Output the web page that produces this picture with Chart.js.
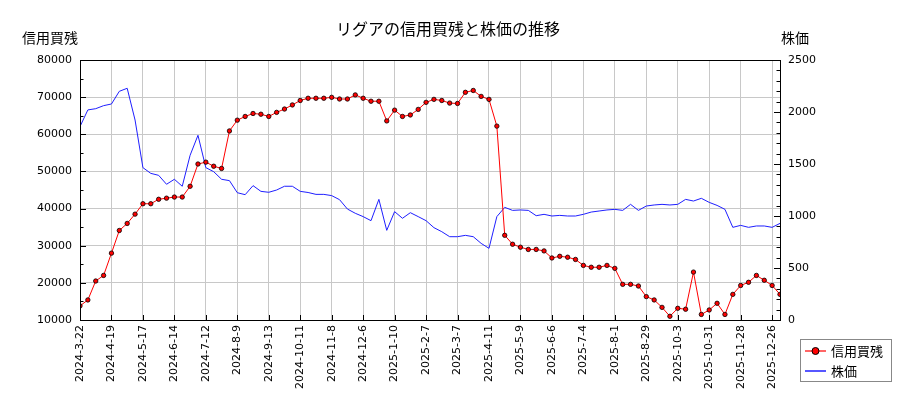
<!DOCTYPE html>
<html>
<head>
<meta charset="utf-8">
<script src="https://cdn.jsdelivr.net/npm/chart.js@4"></script>
<style>
  body { margin: 0; background: #fff; }
  #wrap { width: 900px; height: 400px; }
</style>
</head>
<body>
<div id="wrap"><canvas id="chart" width="900" height="400"></canvas></div>
<script>
// Tick labels (one every 4 weekly points)
const tickLabels = [
  '2024-3-22', '2024-4-19', '2024-5-17', '2024-6-14', '2024-7-12', '2024-8-9',
  '2024-9-13', '2024-10-11', '2024-11-8', '2024-12-6', '2025-1-10', '2025-2-7',
  '2025-3-7', '2025-4-11', '2025-5-9', '2025-6-6', '2025-7-4', '2025-8-1',
  '2025-8-29', '2025-10-3', '2025-10-31', '2025-11-28', '2025-12-26'
];

// 信用買残 (weekly)
const marginBuy = [
  13800, 15400, 20500, 22000, 28000, 34100, 36000, 38500, 41300, 41300,
  42500, 42800, 43100, 43100, 46000, 52000, 52500, 51400, 50800, 60900,
  63800, 64800, 65600, 65400, 64800, 65900, 66800, 67900, 69100, 69700,
  69700, 69700, 69950, 69500, 69500, 70600, 69700, 68900, 68900, 63600,
  66500, 64800, 65200, 66700, 68600, 69400, 69100, 68400, 68300, 71300,
  71800, 70200, 69400, 62200, 32800, 30400, 29600, 29000, 29000, 28600,
  26700, 27150, 26900, 26300, 24700, 24200, 24200, 24700, 23900, 19600,
  19600, 19150, 16300, 15400, 13400, 11000, 13150, 12900, 22900, 11500,
  12700, 14500, 11500, 16900, 19300, 20150, 22000, 20700, 19300, 16900
];

// 株価 (weekly)
const stockPrice = [
  1860, 2020, 2032, 2061, 2077, 2199, 2228, 1923, 1465, 1410,
  1391, 1305, 1353, 1286, 1584, 1776, 1465, 1426, 1353, 1340,
  1224, 1205, 1292, 1237, 1228, 1250, 1286, 1286, 1237, 1226,
  1208, 1208, 1196, 1157, 1067, 1026, 994, 955, 1160, 862,
  1042, 978, 1032, 994, 955, 888, 849, 801, 801, 814,
  801, 737, 689, 994, 1083, 1054, 1058, 1054, 1003, 1016,
  1000, 1006, 1000, 1000, 1016, 1038, 1048, 1058, 1064, 1054,
  1112, 1054, 1096, 1106, 1112, 1106, 1112, 1160, 1144, 1170,
  1131, 1102, 1064, 891, 910, 891, 904, 904, 891, 929
];

const TICK_FONT = { family: "'DejaVu Sans', 'Noto Sans CJK JP'", size: 11 };
const JP_FONT = "'Noto Sans CJK JP', 'DejaVu Sans', sans-serif";
const BLUE = '#1f1fff';

const framePlugin = {
  id: 'frame',
  beforeDraw(chart) {
    const ctx = chart.ctx;
    ctx.save();
    ctx.fillStyle = '#fff';
    ctx.fillRect(0, 0, chart.width, chart.height);
    ctx.restore();
  },
  afterDraw(chart) {
    const ctx = chart.ctx;
    const a = chart.chartArea;
    const yl = chart.scales.y;
    const yr = chart.scales.y2;
    const x = chart.scales.x;
    ctx.save();
    ctx.strokeStyle = '#000';
    ctx.lineWidth = 1;
    ctx.strokeRect(a.left + 0.5, a.top + 0.5, a.right - a.left, a.bottom - a.top);

    // inward tick marks
    ctx.beginPath();
    for (let v = 10000; v <= 80000; v += 5000) {
      const py = Math.round(yl.getPixelForValue(v)) + 0.5;
      const len = v % 10000 === 0 ? 6 : 3.5;
      ctx.moveTo(a.left, py);
      ctx.lineTo(a.left + len, py);
    }
    for (let v = 0; v <= 2500; v += 100) {
      const py = Math.round(yr.getPixelForValue(v)) + 0.5;
      const len = v % 500 === 0 ? 6 : 3.5;
      ctx.moveTo(a.right, py);
      ctx.lineTo(a.right - len, py);
    }
    for (let i = 0; i < tickLabels.length; i++) {
      const px = Math.round(x.getPixelForValue(i * 4)) + 0.5;
      ctx.moveTo(px, a.bottom);
      ctx.lineTo(px, a.bottom - 5);
    }
    ctx.stroke();

    // title and axis titles
    ctx.fillStyle = '#000';
    ctx.textBaseline = 'middle';
    ctx.textAlign = 'center';
    ctx.font = '16px ' + JP_FONT;
    ctx.fillText('リグアの信用買残と株価の推移', 448, 29);
    ctx.font = '14px ' + JP_FONT;
    ctx.fillText('信用買残', 50, 38);
    ctx.fillText('株価', 795, 38);

    // legend
    const lx = 800, ly = 339, lw = 91, lh = 42;
    ctx.fillStyle = '#fff';
    ctx.fillRect(lx, ly, lw, lh);
    ctx.strokeStyle = '#888';
    ctx.strokeRect(lx + 0.5, ly + 0.5, lw, lh);
    ctx.lineWidth = 1.2;
    ctx.strokeStyle = 'red';
    ctx.beginPath();
    ctx.moveTo(805, 351); ctx.lineTo(826, 351);
    ctx.stroke();
    ctx.beginPath();
    ctx.arc(815.5, 351, 3.5, 0, Math.PI * 2);
    ctx.fillStyle = 'red';
    ctx.fill();
    ctx.strokeStyle = '#000';
    ctx.lineWidth = 1;
    ctx.stroke();
    ctx.strokeStyle = BLUE;
    ctx.lineWidth = 1.5;
    ctx.beginPath();
    ctx.moveTo(805, 371); ctx.lineTo(826, 371);
    ctx.stroke();
    ctx.fillStyle = '#000';
    ctx.textAlign = 'left';
    ctx.font = '13px ' + JP_FONT;
    ctx.fillText('信用買残', 831, 351);
    ctx.fillText('株価', 831, 371);
    ctx.restore();
  }
};

new Chart(document.getElementById('chart'), {
  type: 'line',
  data: {
    datasets: [
      {
        label: '信用買残',
        data: marginBuy.map((v, i) => ({ x: i, y: v })),
        yAxisID: 'y',
        borderColor: 'red',
        borderWidth: 1,
        backgroundColor: 'red',
        pointBackgroundColor: 'red',
        pointBorderColor: '#000',
        pointBorderWidth: 0.8,
        pointRadius: 2.2,
        pointStyle: 'circle',
        tension: 0
      },
      {
        label: '株価',
        data: stockPrice.map((v, i) => ({ x: i, y: v })),
        yAxisID: 'y2',
        borderColor: BLUE,
        borderWidth: 1,
        pointRadius: 0,
        tension: 0
      }
    ]
  },
  options: {
    responsive: false,
    animation: false,
    layout: { padding: { top: 60, left: 0, right: 0, bottom: 0 } },
    plugins: {
      legend: { display: false },
      title: { display: false },
      tooltip: { enabled: false }
    },
    scales: {
      x: {
        type: 'linear',
        min: 0,
        max: marginBuy.length - 1,
        afterFit(scale) { scale.height = 80; },
        grid: { color: '#c8c8c8', drawTicks: false },
        border: { display: false },
        ticks: {
          stepSize: 4,
          includeBounds: false,
          autoSkip: false,
          maxRotation: 90,
          minRotation: 90,
          padding: 5,
          color: '#000',
          font: TICK_FONT,
          callback: v => (v % 4 === 0 && tickLabels[v / 4]) ? tickLabels[v / 4] : ''
        }
      },
      y: {
        position: 'left',
        min: 10000,
        max: 80000,
        afterFit(scale) { scale.width = 80; },
        grid: { color: '#c8c8c8', drawTicks: false },
        border: { display: false },
        ticks: { stepSize: 10000, padding: 8, color: '#000', font: TICK_FONT, callback: v => String(v) }
      },
      y2: {
        position: 'right',
        min: 0,
        max: 2500,
        afterFit(scale) { scale.width = 120; },
        grid: { drawOnChartArea: false, drawTicks: false },
        border: { display: false },
        ticks: { stepSize: 500, padding: 8, color: '#000', font: TICK_FONT, callback: v => String(v) }
      }
    }
  },
  plugins: [framePlugin]
});
</script>
</body>
</html>
